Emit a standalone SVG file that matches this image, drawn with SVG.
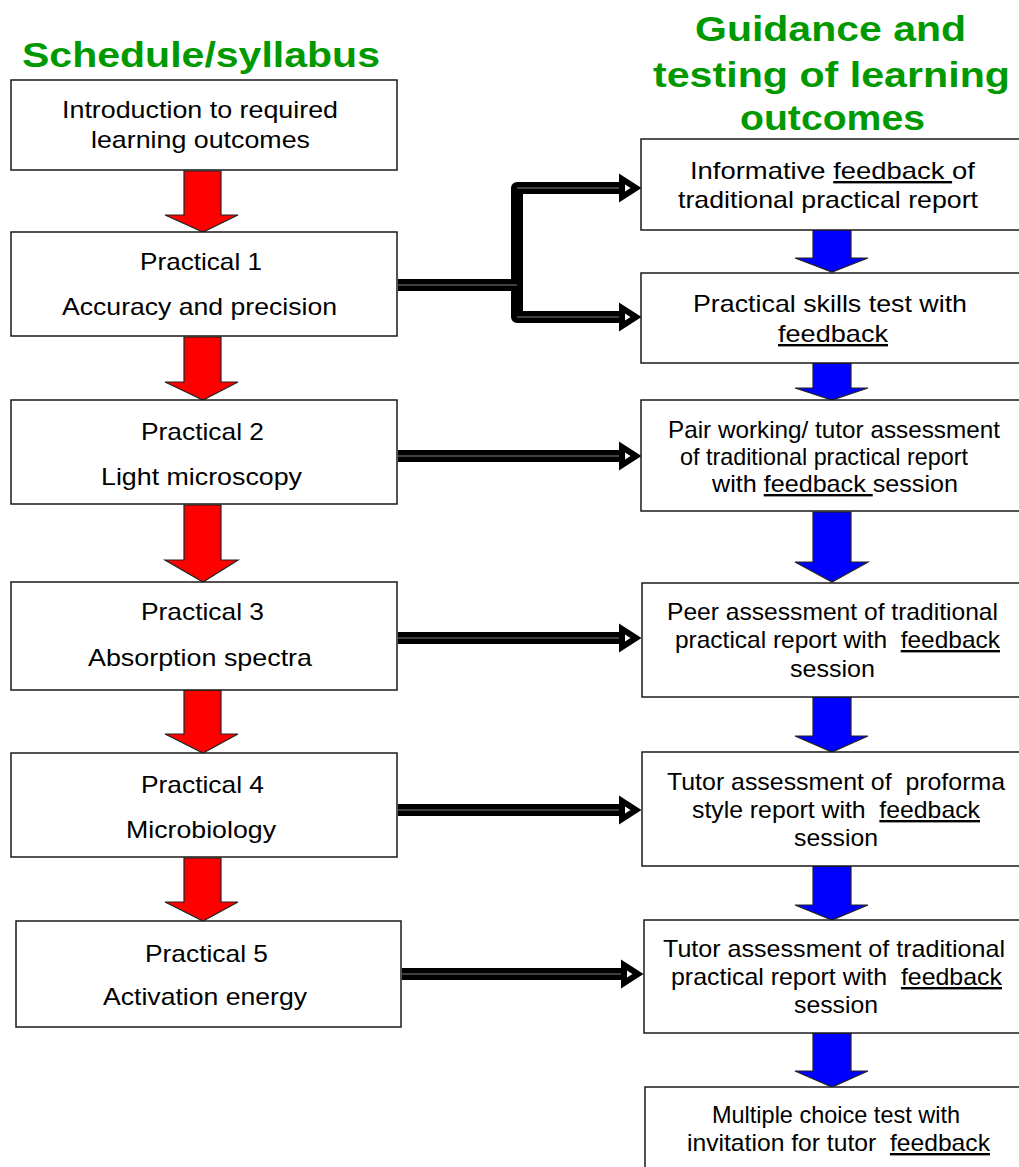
<svg xmlns="http://www.w3.org/2000/svg" width="1019" height="1167" viewBox="0 0 1019 1167">
<style>
.bg{fill:#fff}
.box{fill:#fff;stroke:#1a1a1a;stroke-width:1.5}
.t{font-family:"Liberation Sans",Arial,sans-serif;font-size:24px;fill:#000}
.h{font-family:"Liberation Sans",Arial,sans-serif;font-size:35px;font-weight:bold;fill:#009900}
.u{text-decoration:underline}
.red{fill:#ff0000;stroke:#222;stroke-width:1.2;stroke-linejoin:miter}
.blue{fill:#0000ff;stroke:#222;stroke-width:1.2;stroke-linejoin:miter}
.cl{fill:none;stroke:#000;stroke-width:12;stroke-linejoin:round}
.ci{fill:none;stroke:#808080;stroke-width:1}
.ah{fill:#fff;stroke:#000;stroke-width:6;stroke-linejoin:miter;stroke-miterlimit:10}
</style>
<rect class="bg" x="0" y="0" width="1019" height="1167"/>

<g id="headers">
<text class="h" x="22" y="67" textLength="358" lengthAdjust="spacingAndGlyphs">Schedule/syllabus</text>
<text class="h" x="695" y="41" textLength="271" lengthAdjust="spacingAndGlyphs">Guidance and</text>
<text class="h" x="653" y="87" textLength="357" lengthAdjust="spacingAndGlyphs">testing of learning</text>
<text class="h" x="740" y="130" textLength="185" lengthAdjust="spacingAndGlyphs">outcomes</text>
</g>

<g id="connectors">
<path class="cl" d="M398 285 H517 M620 188 H517 V317 H620"/>
<path class="ci" d="M398 285 H517 M620 188 H517 M517 317 H620"/>
<polygon class="ah" points="622,179 636,188 622,197"/>
<polygon class="ah" points="622,308 636,317 622,326"/>
<path class="cl" d="M398 456 H620"/><path class="ci" d="M398 456 H620"/>
<polygon class="ah" points="622,447 636,456 622,465"/>
<path class="cl" d="M398 638 H620"/><path class="ci" d="M398 638 H620"/>
<polygon class="ah" points="622,629 636,638 622,647"/>
<path class="cl" d="M398 810 H620"/><path class="ci" d="M398 810 H620"/>
<polygon class="ah" points="622,801 636,810 622,819"/>
<path class="cl" d="M402 974 H622"/><path class="ci" d="M402 974 H622"/>
<polygon class="ah" points="624,965 638,974 624,983"/>

<polygon class="red" points="184,171 221,171 221,215 238,215 203,232 165,215 184,215"/>
<polygon class="red" points="184,337 221,337 221,382 238,382 203,400 165,382 184,382"/>
<polygon class="red" points="184,505 221,505 221,560 238,560 203,582 165,560 184,560"/>
<polygon class="red" points="184,690 221,690 221,734 238,734 203,753 165,734 184,734"/>
<polygon class="red" points="184,858 221,858 221,902 238,902 203,921 165,902 184,902"/>

<polygon class="blue" points="813,228 851,228 851,258 868,258 832,272 795,258 813,258"/>
<polygon class="blue" points="813,363 851,363 851,388 868,388 832,400 795,388 813,388"/>
<polygon class="blue" points="813,512 851,512 851,562 868,562 832,582 795,562 813,562"/>
<polygon class="blue" points="813,697 851,697 851,736 868,736 832,752 795,736 813,736"/>
<polygon class="blue" points="813,866 851,866 851,905 868,905 832,920 795,905 813,905"/>
<polygon class="blue" points="813,1033 851,1033 851,1071 868,1071 832,1087 795,1071 813,1071"/>
</g>

<g id="intro">
<rect class="box" x="11" y="80" width="386" height="90"/>
<text class="t" x="62" y="118" textLength="276" lengthAdjust="spacingAndGlyphs">Introduction to required</text>
<text class="t" x="91" y="148" textLength="219" lengthAdjust="spacingAndGlyphs">learning outcomes</text>
</g>
<g id="practical1">
<rect class="box" x="11" y="232" width="386" height="104"/>
<text class="t" x="140" y="270" textLength="122" lengthAdjust="spacingAndGlyphs">Practical 1</text>
<text class="t" x="62" y="315" textLength="275" lengthAdjust="spacingAndGlyphs">Accuracy and precision</text>
</g>
<g id="practical2">
<rect class="box" x="11" y="400" width="386" height="104"/>
<text class="t" x="141" y="440" textLength="123" lengthAdjust="spacingAndGlyphs">Practical 2</text>
<text class="t" x="101" y="485" textLength="201" lengthAdjust="spacingAndGlyphs">Light microscopy</text>
</g>
<g id="practical3">
<rect class="box" x="11" y="582" width="386" height="108"/>
<text class="t" x="141" y="620" textLength="123" lengthAdjust="spacingAndGlyphs">Practical 3</text>
<text class="t" x="88" y="666" textLength="224" lengthAdjust="spacingAndGlyphs">Absorption spectra</text>
</g>
<g id="practical4">
<rect class="box" x="11" y="753" width="386" height="104"/>
<text class="t" x="141" y="793" textLength="123" lengthAdjust="spacingAndGlyphs">Practical 4</text>
<text class="t" x="126" y="838" textLength="150" lengthAdjust="spacingAndGlyphs">Microbiology</text>
</g>
<g id="practical5">
<rect class="box" x="16" y="921" width="385" height="106"/>
<text class="t" x="145" y="962" textLength="123" lengthAdjust="spacingAndGlyphs">Practical 5</text>
<text class="t" x="103" y="1005" textLength="204" lengthAdjust="spacingAndGlyphs">Activation energy</text>
</g>

<g id="informative">
<rect class="box" x="641" y="139" width="382" height="91"/>
<text class="t" x="690" y="179" textLength="285" lengthAdjust="spacingAndGlyphs" xml:space="preserve">Informative <tspan class="u">feedback </tspan>of</text>
<text class="t" x="678" y="208" textLength="300" lengthAdjust="spacingAndGlyphs">traditional practical report</text>
</g>
<g id="skills">
<rect class="box" x="641" y="273" width="382" height="90"/>
<text class="t" x="693" y="312" textLength="274" lengthAdjust="spacingAndGlyphs">Practical skills test with</text>
<text class="t u" x="778" y="342" textLength="110" lengthAdjust="spacingAndGlyphs">feedback</text>
</g>
<g id="pair">
<rect class="box" x="641" y="400" width="382" height="111"/>
<text class="t" x="668" y="438" textLength="332" lengthAdjust="spacingAndGlyphs">Pair working/ tutor assessment</text>
<text class="t" x="680" y="465" textLength="288" lengthAdjust="spacingAndGlyphs">of traditional practical report</text>
<text class="t" x="712" y="492" textLength="246" lengthAdjust="spacingAndGlyphs" xml:space="preserve">with <tspan class="u">feedback </tspan>session</text>
</g>
<g id="peer">
<rect class="box" x="642" y="583" width="381" height="114"/>
<text class="t" x="667" y="620" textLength="331" lengthAdjust="spacingAndGlyphs">Peer assessment of traditional</text>
<text class="t" x="675" y="648" textLength="325" lengthAdjust="spacingAndGlyphs" xml:space="preserve">practical report with  <tspan class="u">feedback</tspan></text>
<text class="t" x="790" y="677" textLength="85" lengthAdjust="spacingAndGlyphs">session</text>
</g>
<g id="proforma">
<rect class="box" x="642" y="752" width="381" height="114"/>
<text class="t" x="667" y="790" textLength="338" lengthAdjust="spacingAndGlyphs" xml:space="preserve">Tutor assessment of  proforma</text>
<text class="t" x="692" y="818" textLength="288" lengthAdjust="spacingAndGlyphs" xml:space="preserve">style report with  <tspan class="u">feedback</tspan></text>
<text class="t" x="794" y="846" textLength="84" lengthAdjust="spacingAndGlyphs">session</text>
</g>
<g id="tutor-traditional">
<rect class="box" x="644" y="920" width="379" height="113"/>
<text class="t" x="663" y="957" textLength="342" lengthAdjust="spacingAndGlyphs">Tutor assessment of traditional</text>
<text class="t" x="671" y="985" textLength="331" lengthAdjust="spacingAndGlyphs" xml:space="preserve">practical report with  <tspan class="u">feedback</tspan></text>
<text class="t" x="794" y="1013" textLength="84" lengthAdjust="spacingAndGlyphs">session</text>
</g>
<g id="mcq">
<rect class="box" x="645" y="1087" width="378" height="90"/>
<text class="t" x="712" y="1123" textLength="248" lengthAdjust="spacingAndGlyphs">Multiple choice test with</text>
<text class="t" x="687" y="1151" textLength="303" lengthAdjust="spacingAndGlyphs" xml:space="preserve">invitation for tutor  <tspan class="u">feedback</tspan></text>
</g>
</svg>
